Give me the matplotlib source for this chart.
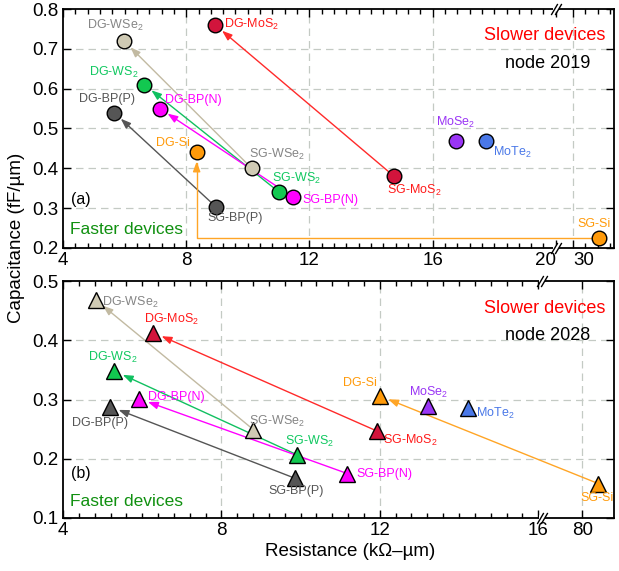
import numpy as np
import matplotlib.pyplot as plt
import matplotlib.transforms as mtransforms
from matplotlib.ticker import FixedLocator, NullLocator

plt.rcParams['font.family'] = ['Liberation Sans', 'DejaVu Sans']
plt.rcParams['mathtext.default'] = 'regular'

# ---- data ----
materials = ['MoS2', 'WSe2', 'WS2', 'BP(N)', 'BP(P)', 'Si']
others = ['MoSe2', 'MoTe2']

# node 2019 (circles), single gate -> double gate
r19_sg = [14.75, 10.13, 11.02, 11.48, 8.97, 30.85]
c19_sg = [0.380, 0.400, 0.340, 0.327, 0.303, 0.226]
r19_dg = [8.94, 5.98, 6.64, 7.15, 5.66, 8.34]
c19_dg = [0.760, 0.720, 0.610, 0.550, 0.540, 0.440]
r19_other = [16.76, 17.73]
c19_other = [0.469, 0.469]

# node 2028 (triangles)
r28_sg = [11.92, 8.81, 9.90, 11.18, 9.86, 85.0]
c28_sg = [0.247, 0.249, 0.207, 0.175, 0.167, 0.158]
r28_dg = [6.28, 4.83, 5.30, 5.93, 5.19, 12.0]
c28_dg = [0.413, 0.468, 0.348, 0.301, 0.288, 0.306]
r28_other = [13.22, 14.23]
c28_other = [0.289, 0.285]

xticks19 = [4, 8, 12, 16, 20, 30]
xticks28 = [4, 8, 12, 16, 80]
xgrid19 = [8, 12, 16, 30]
xgrid28 = [8, 12, 80]

# ---- styles ----
tex = {'MoS2': 'MoS$_2$', 'WSe2': 'WSe$_2$', 'WS2': 'WS$_2$', 'BP(N)': 'BP(N)',
       'BP(P)': 'BP(P)', 'Si': 'Si', 'MoSe2': 'MoSe$_2$', 'MoTe2': 'MoTe$_2$'}
fill = {'MoS2': '#d2143c', 'WSe2': '#cfcab4', 'WS2': '#12c850', 'BP(N)': '#ff00ff',
        'BP(P)': '#555555', 'Si': '#ff9a0a', 'MoSe2': '#9a35f5', 'MoTe2': '#4a78e8'}
tcol = {'MoS2': '#ff1a1a', 'WSe2': '#858585', 'WS2': '#10c860', 'BP(N)': '#ff00ff',
        'BP(P)': '#555555', 'Si': '#ff9a0a', 'MoSe2': '#9a35f5', 'MoTe2': '#4a78e8'}
acol = {'MoS2': '#ff2a2a', 'WSe2': '#c2baa2', 'WS2': '#10c060', 'BP(N)': '#ff00ff',
        'BP(P)': '#555555', 'Si': '#ffa526'}

# label offsets (points) and alignment
lab19 = {
    'DG-MoS2': (6.5, 0, 'left'), 'DG-WSe2': (-6, 11, 'center'), 'DG-WS2': (-4, 9, 'right'),
    'DG-BP(N)': (3.5, 6.5, 'left'), 'DG-BP(P)': (-5, 10, 'center'), 'DG-Si': (-5, 6.5, 'right'),
    'SG-MoS2': (-5, -10, 'left'), 'SG-WSe2': (-2, 10, 'left'), 'SG-WS2': (-5, 10, 'left'),
    'SG-BP(N)': (6.5, -2, 'left'), 'SG-BP(P)': (-6.5, -8, 'left'), 'SG-Si': (-3.5, 10, 'center'),
    'MoSe2': (0, 13, 'center'), 'MoTe2': (5, -8, 'left'),
}
lab28 = {
    'DG-MoS2': (-7, 9.5, 'left'), 'DG-WSe2': (4.5, -1.5, 'left'), 'DG-WS2': (-1.5, 9.5, 'center'),
    'DG-BP(N)': (6, 1.5, 'left'), 'DG-BP(P)': (-7, -12, 'center'), 'DG-Si': (-2, 9.5, 'right'),
    'SG-MoS2': (4.5, -7, 'left'), 'SG-WSe2': (-3.5, 6, 'left'), 'SG-WS2': (-8.5, 9.5, 'left'),
    'SG-BP(N)': (6.5, 0, 'left'), 'SG-BP(P)': (1, -9.5, 'center'), 'SG-Si': (-1, -10, 'center'),
    'MoSe2': (0, 9.5, 'center'), 'MoTe2': (6, -3.5, 'left'),
}


def broken_scale(brk, start, gap, k):
    def fwd(x):
        x = np.asarray(x, float)
        mid = brk + (x - brk) / (start - brk) * gap
        return np.where(x <= brk, x, np.where(x < start, mid, brk + gap + (x - start) * k))

    def inv(u):
        u = np.asarray(u, float)
        mid = brk + (u - brk) / gap * (start - brk)
        return np.where(u <= brk, u, np.where(u < brk + gap, mid, start + (u - brk - gap) / k))
    return fwd, inv


def label(ax, x, y, name, key, offs):
    dx, dy, ha = offs[key]
    ax.annotate(name, (x, y), xytext=(dx, dy), textcoords='offset points',
                ha=ha, va='center', fontsize=9, color=tcol[key.split('-')[-1]], zorder=4)


def panel(ax, marker, ms, sg_r, sg_c, dg_r, dg_c, ot_r, ot_c, offs, elbow_si):
    for i, m in enumerate(materials):
        cs = 'arc3'
        if m == 'Si' and elbow_si:
            cs = 'angle,angleA=0,angleB=90,rad=0'
        ax.annotate('', xy=(dg_r[i], dg_c[i]), xytext=(sg_r[i], sg_c[i]),
                    arrowprops=dict(arrowstyle='-|>,head_length=0.6,head_width=0.22',
                                    color=acol[m], lw=1.0, shrinkA=0, shrinkB=6.5,
                                    connectionstyle=cs), zorder=2)
        for r, c, g in [(sg_r[i], sg_c[i], 'SG'), (dg_r[i], dg_c[i], 'DG')]:
            ax.plot(r, c, marker=marker, ms=ms, mfc=fill[m], mec='k', mew=1.0,
                    ls='none', zorder=3, clip_on=False)
            label(ax, r, c, g + '-' + tex[m], g + '-' + m, offs)
    for i, m in enumerate(others):
        ax.plot(ot_r[i], ot_c[i], marker=marker, ms=ms, mfc=fill[m], mec='k', mew=1.0,
                ls='none', zorder=3)
        label(ax, ot_r[i], ot_c[i], tex[m], m, offs)


def style_axes(ax, ticks, minor, grid, brk, ylim, yticks):
    ax.xaxis.set_major_locator(FixedLocator(ticks))
    ax.set_xticklabels([str(t) for t in ticks])
    ax.xaxis.set_minor_locator(FixedLocator(minor))
    ax.set_ylim(*ylim)
    ax.set_yticks(yticks)
    ax.set_yticklabels(['%.1f' % v for v in yticks])
    ax.yaxis.set_minor_locator(NullLocator())
    ax.tick_params(which='both', direction='in', top=True, right=True, labelsize=13.5, width=1.0)
    ax.tick_params(which='major', length=6, pad=3)
    ax.tick_params(which='minor', length=3.5)
    for s in ax.spines.values():
        s.set_linewidth(1.3)
    gkw = dict(color='#c4cac4', ls=(0, (6, 4)), lw=0.9, zorder=1)
    for v in grid:
        ax.axvline(v, **gkw)
    for v in yticks[1:-1]:
        ax.axhline(v, **gkw)
    # break marks on the x spines
    trans = mtransforms.blended_transform_factory(ax.transData, ax.transAxes)
    for yb in (0, 1):
        ax.plot([brk], [yb], marker='_', ms=5, mew=4, color='w', transform=trans,
                clip_on=False, zorder=5)
        for off in (-1.6, 1.6):
            tr = mtransforms.offset_copy(trans, ax.figure, x=off, units='points')
            ax.plot([brk], [yb], marker=[(-1, -1.7), (1, 1.7)], ms=8, mew=1.0, color='k',
                    transform=tr, clip_on=False, zorder=6)


fig = plt.figure(figsize=(6.19, 5.71), dpi=100)
ax1 = fig.add_axes([63 / 619, 1 - 248 / 571, 551 / 619, 239 / 571])
ax2 = fig.add_axes([63 / 619, 1 - 518 / 571, 551 / 619, 237 / 571])

f1, i1 = broken_scale(20, 30, 0.56, 1.0)
ax1.set_xscale('function', functions=(f1, i1))
ax1.set_xlim(4, 31.33)
f2, i2 = broken_scale(16.1, 80, 1.01, 0.082)
ax2.set_xscale('function', functions=(f2, i2))
ax2.set_xlim(4, 89.8)

minor19 = list(np.arange(4, 20.01, 0.4)) + [30.4, 30.8, 31.2]
minor28 = list(np.arange(4, 16.01, 0.4))

style_axes(ax1, xticks19, minor19, xgrid19, 20, (0.2, 0.8), [0.2, 0.3, 0.4, 0.5, 0.6, 0.7, 0.8])
style_axes(ax2, xticks28, minor28, xgrid28, 16.1, (0.1, 0.5), [0.1, 0.2, 0.3, 0.4, 0.5])
labels = ax1.get_xticklabels()
labels[4].set_ha('right')
labels[5].set_ha('left')

panel(ax1, 'o', 10.5, r19_sg, c19_sg, r19_dg, c19_dg, r19_other, c19_other, lab19, True)
panel(ax2, '^', 11, r28_sg, c28_sg, r28_dg, c28_dg, r28_other, c28_other, lab28, False)

for ax, node, pan, yy in [(ax1, 'node 2019', '(a)', (0.891, 0.774, 0.201, 0.079)),
                          (ax2, 'node 2028', '(b)', (0.886, 0.772, 0.186, 0.068))]:
    ax.text(0.874, yy[0], 'Slower devices', color='#ff0000', fontsize=13, ha='center',
            va='center', transform=ax.transAxes)
    ax.text(0.88, yy[1], node, color='k', fontsize=13, ha='center', va='center',
            transform=ax.transAxes)
    ax.text(0.032, yy[2], pan, color='k', fontsize=11.5, ha='center', va='center',
            transform=ax.transAxes)
    ax.text(0.012, yy[3], 'Faster devices', color='#109010', fontsize=12.5, ha='left',
            va='center', transform=ax.transAxes)

fig.text(0.027, 1 - 238 / 571, 'Capacitance (fF/\u00b5m)', rotation=90, fontsize=13.5,
         ha='center', va='center')
fig.text((268 + 433) / 2 / 619, 1 - 552 / 571, 'Resistance (k\u03a9\u2013\u00b5m)', fontsize=13.5,
         ha='center', va='center')

fig.savefig('out.png', dpi=100)
